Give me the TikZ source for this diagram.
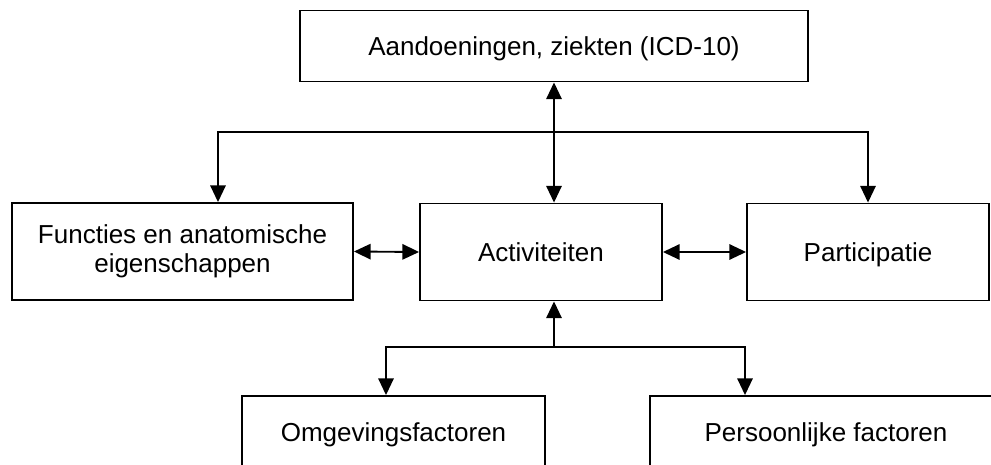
\documentclass[tikz,border=0pt]{standalone}
\usepackage{fontspec}
\setmainfont{Liberation Sans}
\usetikzlibrary{arrows.meta}
\begin{document}
\begin{tikzpicture}[x=0.75pt,y=-0.75pt,
  box/.style={draw=black, line width=1.4pt, rectangle, inner sep=0pt, align=center,
    font=\fontsize{19.5}{21.5}\selectfont},
  oneline/.style={text height=14pt, text depth=0pt},
  conn/.style={line width=1.4pt, line join=miter},
  >={Triangle[length=12.5pt,width=11.5pt]}
]
\clip (0,0) rectangle (991,464);
\fill[white] (0,0) rectangle (991,464);

\node[box, oneline, minimum width=381pt, minimum height=53.25pt] (top) at (554,46) {Aandoeningen, ziekten (ICD-10)};
\node[box, minimum width=255.75pt, minimum height=72.75pt] (func) at (182.5,251.5) {Functies en anatomische\\eigenschappen};
\node[box, oneline, minimum width=181.5pt, minimum height=72.75pt] (act) at (541,252) {Activiteiten};
\node[box, oneline, minimum width=181.5pt, minimum height=72.75pt] (part) at (868,252) {Participatie};
\node[box, oneline, minimum width=227.25pt, minimum height=54.75pt] (omg) at (393.5,432.5) {Omgevingsfactoren};
\node[box, oneline, minimum width=264pt, minimum height=54.75pt] (pers) at (826,432.5) {Persoonlijke factoren};

\coordinate (spine) at (554,0);
\coordinate (bus) at (0,132);
\coordinate (lowbus) at (0,347);
\coordinate (fl) at (218,0);
\coordinate (bl) at (386,0);
\coordinate (br) at (745,0);

\draw[conn,<->] (top.south -| spine) -- (act.north -| spine);
\draw[conn,<->] (fl |- func.north) -- (bus -| fl) -- (bus -| part) -- (part.north);
\draw[conn,<->] (func.east) -- (act.west);
\draw[conn,<->] (act.east) -- (part.west);
\draw[conn,->] (lowbus -| spine) -- (act.south -| spine);
\draw[conn,<->] (bl |- omg.north) -- (lowbus -| bl) -- (lowbus -| br) -- (br |- pers.north);
\end{tikzpicture}
\end{document}
